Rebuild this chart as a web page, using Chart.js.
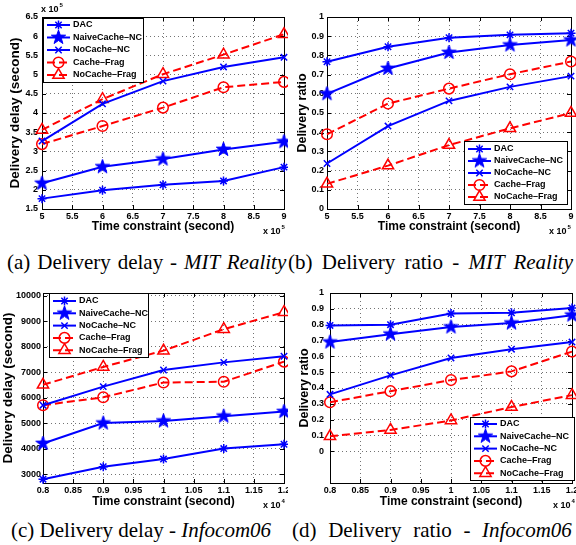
<!DOCTYPE html>
<html>
<head>
<meta charset="utf-8">
<script src="https://cdn.jsdelivr.net/npm/chart.js@4.4.0/dist/chart.umd.min.js"></script>
<style>
  body { margin: 0; background: #fff; width: 576px; height: 545px; position: relative; overflow: hidden; }
  canvas { position: absolute; }
  .cap { position: absolute; font-family: "Liberation Serif", "DejaVu Serif", serif; font-size: 21px; line-height: 1; white-space: nowrap; color: #000; }
</style>
</head>
<body>
<canvas id="cA" width="288" height="240" style="left:0;top:0"></canvas>
<canvas id="cB" width="288" height="240" style="left:288px;top:0"></canvas>
<canvas id="cC" width="288" height="232" style="left:0;top:280px"></canvas>
<canvas id="cD" width="288" height="232" style="left:288px;top:280px"></canvas>
<div class="cap" style="left:7px;top:252px;word-spacing:1.7px">(a) Delivery delay - <i>MIT Reality</i></div>
<div class="cap" style="left:288px;top:252px;word-spacing:4px">(b) Delivery ratio - <i>MIT Reality</i></div>
<div class="cap" style="left:11px;top:520px">(c) Delivery delay - <i>Infocom06</i></div>
<div class="cap" style="left:292px;top:520px;word-spacing:6.4px">(d) Delivery ratio - <i>Infocom06</i></div>
<script>
const seriesNames = ["DAC", "NaiveCache\u2013NC", "NoCache\u2013NC", "Cache\u2013Frag", "NoCache\u2013Frag"];

// time constraint (x 10^5 s for MIT, x 10^4 s for Infocom06)
const mitTime = [5, 6, 7, 8, 9];
const infoTime = [0.8, 0.9, 1.0, 1.1, 1.2];

// y tick labels shown on the Infocom06 delay axis
const infoDelayTicks = [3000, 4000, 5000, 6000, 7000, 8000, 9000, 10000];

// (a) delivery delay, MIT Reality (x 10^5 s)
const mitDelayDAC = [1.77, 1.99, 2.13, 2.23, 2.59];
const mitDelayNaive = [2.17, 2.6, 2.8, 3.05, 3.25];
const mitDelayNoCacheNC = [3.27, 4.24, 4.83, 5.2, 5.45];
const mitDelayCacheFrag = [3.19, 3.66, 4.14, 4.67, 4.81];
const mitDelayNoCacheFrag = [3.56, 4.36, 5.01, 5.52, 6.05];

// (b) delivery ratio, MIT Reality
const mitRatioDAC = [0.767, 0.845, 0.892, 0.907, 0.916];
const mitRatioNaive = [0.6, 0.732, 0.815, 0.854, 0.88];
const mitRatioNoCacheNC = [0.237, 0.432, 0.563, 0.636, 0.692];
const mitRatioCacheFrag = [0.389, 0.549, 0.627, 0.702, 0.768];
const mitRatioNoCacheFrag = [0.131, 0.226, 0.333, 0.42, 0.5];

// (c) delivery delay, Infocom06 (s)
const infoDelayDAC = [2800, 3290, 3590, 4000, 4170];
const infoDelayNaive = [4200, 5000, 5080, 5270, 5450];
const infoDelayNoCacheNC = [5700, 6430, 7080, 7380, 7620];
const infoDelayCacheFrag = [5700, 6010, 6590, 6620, 7410];
const infoDelayNoCacheFrag = [6500, 7200, 7840, 8680, 9350];

// (d) delivery ratio, Infocom06
const infoRatioDAC = [0.795, 0.8, 0.87, 0.875, 0.905];
const infoRatioNaive = [0.69, 0.74, 0.785, 0.81, 0.86];
const infoRatioNoCacheNC = [0.36, 0.48, 0.59, 0.645, 0.69];
const infoRatioCacheFrag = [0.31, 0.38, 0.45, 0.505, 0.63];
const infoRatioNoCacheFrag = [0.095, 0.135, 0.195, 0.28, 0.355];

const FONT = '"Liberation Sans", Arial, Helvetica, sans-serif';
const BLUE = "#0000ff";
const RED = "#ff0000";

// filled five-point star, like matlab's pentagram marker
function pentagram() {
  const c = document.createElement("canvas");
  c.width = 17; c.height = 17;
  const g = c.getContext("2d");
  g.beginPath();
  for (let i = 0; i < 10; i++) {
    const r = i % 2 ? 3 : 7.5;
    const a = -Math.PI / 2 + i * Math.PI / 5;
    g.lineTo(8.5 + r * Math.cos(a), 8.5 + r * Math.sin(a));
  }
  g.closePath();
  g.fillStyle = BLUE; g.fill();
  g.strokeStyle = BLUE; g.lineWidth = 1; g.stroke();
  return c;
}
const starImg = pentagram();

const looks = [
  { color: BLUE, dash: [], point: "star", r: 4.5 },
  { color: BLUE, dash: [], point: starImg, r: 7 },
  { color: BLUE, dash: [], point: "crossRot", r: 4.5 },
  { color: RED, dash: [8, 4], point: "circle", r: 5.3 },
  { color: RED, dash: [8, 4], point: "triangle", r: 6.5 },
];

function makeSets(xs, list) {
  return list.map((ys, i) => ({
    label: seriesNames[i],
    data: xs.map((x, j) => ({ x: x, y: ys[j] })),
    borderColor: looks[i].color,
    borderWidth: 2,
    borderDash: looks[i].dash,
    pointStyle: looks[i].point,
    pointRadius: looks[i].r,
    pointBorderColor: looks[i].color,
    pointBackgroundColor: "rgba(0,0,0,0)",
    pointBorderWidth: 1.5,
    tension: 0,
    fill: false,
    clip: false,
  }));
}

// box, inward ticks, legend and exponent labels drawn the matlab way
const deco = {
  id: "deco",
  beforeDatasetsDraw(chart, args, o) {
    const ctx = chart.ctx, a = chart.chartArea;
    ctx.save();
    ctx.strokeStyle = "#000";
    ctx.lineWidth = 1;
    ctx.strokeRect(Math.round(a.left) + 0.5, Math.round(a.top) + 0.5, Math.round(a.right - a.left), Math.round(a.bottom - a.top));
    ctx.beginPath();
    chart.scales.x.ticks.forEach(t => {
      const px = Math.round(chart.scales.x.getPixelForValue(t.value)) + 0.5;
      ctx.moveTo(px, a.bottom); ctx.lineTo(px, a.bottom - 4);
      ctx.moveTo(px, a.top); ctx.lineTo(px, a.top + 4);
    });
    chart.scales.y.ticks.forEach(t => {
      const py = Math.round(chart.scales.y.getPixelForValue(t.value)) + 0.5;
      ctx.moveTo(a.left, py); ctx.lineTo(a.left + 4, py);
      ctx.moveTo(a.right, py); ctx.lineTo(a.right - 4, py);
    });
    ctx.stroke();
    ctx.restore();
  },
  afterDraw(chart, args, o) {
    const ctx = chart.ctx;
    ctx.save();
    const L = o.legend;
    ctx.fillStyle = "#fff";
    ctx.fillRect(L.x, L.y, L.w, L.h);
    ctx.strokeStyle = "#000";
    ctx.lineWidth = 1;
    ctx.strokeRect(L.x + 0.5, L.y + 0.5, L.w, L.h);
    chart.data.datasets.forEach((ds, i) => {
      const cy = L.y + L.first + i * L.step;
      const x0 = L.x + 4, x1 = L.x + 27;
      ctx.strokeStyle = ds.borderColor;
      ctx.lineWidth = ds.borderWidth;
      ctx.setLineDash(ds.borderDash);
      ctx.beginPath(); ctx.moveTo(x0, cy); ctx.lineTo(x1, cy); ctx.stroke();
      ctx.setLineDash([]);
      ctx.lineWidth = ds.pointBorderWidth;
      ctx.fillStyle = ds.pointBackgroundColor;
      Chart.helpers.drawPoint(ctx, { pointStyle: ds.pointStyle, radius: ds.pointRadius, rotation: 0, borderWidth: ds.pointBorderWidth }, (x0 + x1) / 2, cy);
      ctx.fillStyle = "#000";
      ctx.font = "bold 9px " + FONT;
      ctx.textBaseline = "middle";
      ctx.fillText(ds.label, L.x + 30, cy);
    });
    ctx.fillStyle = "#000";
    ctx.textBaseline = "middle";
    (o.exps || []).forEach(e => {
      ctx.font = "bold 9px " + FONT;
      ctx.fillText("x 10", e.x, e.y);
      const w = ctx.measureText("x 10").width;
      ctx.font = "bold 6px " + FONT;
      ctx.fillText(e.p, e.x + w + 1, e.y - 5);
    });
    ctx.restore();
  },
};

function makeChart(id, cfg) {
  const H = cfg.H;
  return new Chart(document.getElementById(id), {
    type: "line",
    data: { datasets: makeSets(cfg.xs, cfg.series) },
    plugins: [deco],
    options: {
      responsive: false,
      animation: false,
      devicePixelRatio: 1,
      layout: { autoPadding: false, padding: { left: 0, top: cfg.top, right: cfg.right, bottom: 0 } },
      plugins: {
        legend: { display: false },
        tooltip: { enabled: false },
        deco: { legend: cfg.legend, exps: cfg.exps },
      },
      scales: {
        x: {
          type: "linear",
          min: cfg.xMin, max: cfg.xMax,
          ticks: {
            stepSize: cfg.xStep, autoSkip: false, maxRotation: 0, padding: 2,
            color: "#000", font: { family: FONT, size: 9, weight: "bold" },
            callback: v => String(+v.toFixed(2)),
          },
          grid: { drawTicks: false, color: "rgba(0,0,0,0.55)", borderDash: [1, 3] },
          border: { display: false, dash: [1, 3] },
          title: {
            display: true, text: "Time constraint (second)", color: "#000",
            font: { family: FONT, size: 12, weight: "bold" },
            padding: { top: 0, bottom: cfg.xTitlePad },
          },
          afterFit: s => { s.height = H - cfg.bottom; s.paddingLeft = 0; s.paddingRight = 0; },
        },
        y: {
          min: cfg.yMin, max: cfg.yMax,
          ticks: {
            stepSize: cfg.yStep, autoSkip: false, includeBounds: false, padding: cfg.yTickPad,
            color: "#000", font: { family: FONT, size: 9, weight: "bold" },
            callback: v => String(+v.toFixed(2)),
          },
          afterBuildTicks: s => {
            if (cfg.yTicks) s.ticks = cfg.yTicks.map(v => ({ value: v }));
            else s.ticks = s.ticks.filter(t => t.value >= -1e-9);
          },
          grid: { drawTicks: false, color: "rgba(0,0,0,0.55)", borderDash: [1, 3] },
          border: { display: false, dash: [1, 3] },
          title: {
            display: true, text: cfg.yTitle, color: "#000",
            font: { family: FONT, size: cfg.yTitleSize, weight: "bold" },
            padding: { top: cfg.yTitlePad, bottom: 0 },
          },
          afterFit: s => { s.width = cfg.left; s.paddingTop = 0; s.paddingBottom = 0; },
        },
      },
    },
  });
}

makeChart("cA", {
  H: 240, left: 42, top: 17, right: 4, bottom: 209,
  xs: mitTime, xMin: 5, xMax: 9, xStep: 0.5,
  yMin: 1.5, yMax: 6.5, yStep: 0.5, yTickPad: 4,
  yTitle: "Delivery delay (second)", yTitleSize: 13.5, yTitlePad: 7, xTitlePad: 6,
  series: [mitDelayDAC, mitDelayNaive, mitDelayNoCacheNC, mitDelayCacheFrag, mitDelayNoCacheFrag],
  legend: { x: 43, y: 18, w: 100, h: 64, first: 7, step: 12.5 },
  exps: [{ x: 41, y: 10, p: "5" }, { x: 263, y: 232, p: "5" }],
});

makeChart("cB", {
  H: 240, left: 39, top: 17, right: 5, bottom: 209,
  xs: mitTime, xMin: 5, xMax: 9, xStep: 0.5,
  yMin: 0, yMax: 1, yStep: 0.1, yTickPad: 3,
  yTitle: "Delivery ratio", yTitleSize: 12.5, yTitlePad: 7, xTitlePad: 6,
  series: [mitRatioDAC, mitRatioNaive, mitRatioNoCacheNC, mitRatioCacheFrag, mitRatioNoCacheFrag],
  legend: { x: 176, y: 141, w: 103, h: 63, first: 8, step: 12 },
  exps: [{ x: 261, y: 232, p: "5" }],
});

makeChart("cC", {
  H: 232, left: 43, top: 13, right: 4, bottom: 203,
  xs: infoTime, xMin: 0.8, xMax: 1.2, xStep: 0.05,
  yMin: 2650, yMax: 10100, yStep: 1000, yTicks: infoDelayTicks, yTickPad: 2,
  yTitle: "Delivery delay (second)", yTitleSize: 13.5, yTitlePad: 0, xTitlePad: 3,
  series: [infoDelayDAC, infoDelayNaive, infoDelayNoCacheNC, infoDelayCacheFrag, infoDelayNoCacheFrag],
  legend: { x: 49, y: 13, w: 99, h: 64, first: 8, step: 12.3 },
  exps: [{ x: 263, y: 226, p: "4" }],
});

makeChart("cD", {
  H: 232, left: 42, top: 13, right: 4, bottom: 203,
  xs: infoTime, xMin: 0.8, xMax: 1.2, xStep: 0.05,
  yMin: -0.2, yMax: 1, yStep: 0.1, yTickPad: 6,
  yTitle: "Delivery ratio", yTitleSize: 12.5, yTitlePad: 9, xTitlePad: 3,
  series: [infoRatioDAC, infoRatioNaive, infoRatioNoCacheNC, infoRatioCacheFrag, infoRatioNoCacheFrag],
  legend: { x: 182, y: 137, w: 104, h: 63, first: 7, step: 12.3 },
  exps: [{ x: 265, y: 226, p: "4" }],
});
</script>
</body>
</html>
